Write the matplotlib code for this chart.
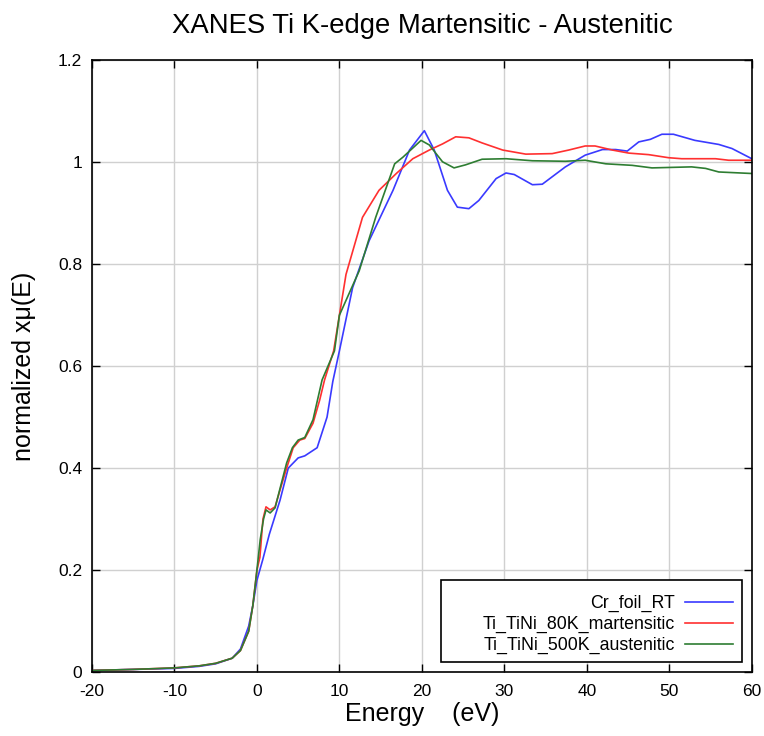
import matplotlib
matplotlib.use("Agg")
import matplotlib.pyplot as plt
from matplotlib.ticker import FuncFormatter
from matplotlib.patches import Rectangle

plt.rcParams['font.family'] = ['Liberation Sans', 'DejaVu Sans']
plt.rcParams['axes.unicode_minus'] = False

# Cr_foil_RT
cr_E = [-20, -15, -10, -7, -5, -3, -2, -1, -0.5, 0, 0.7, 1.5, 2.8, 3.8, 5.0, 5.8, 7.3, 8.5, 9.2, 10.0,
        11.6, 13.6, 16.5, 18.5, 20.3, 21.5, 23.1, 24.3, 25.7, 26.9, 29.0, 30.2, 31.2, 33.4, 34.6,
        37.4, 39.8, 41.9, 43.5, 44.9, 46.3, 47.7, 49.1, 50.5, 53.1, 56.0, 57.6, 60]
cr_mu = [0.003, 0.005, 0.007, 0.011, 0.016, 0.027, 0.045, 0.09, 0.13, 0.18, 0.22, 0.27, 0.337, 0.40, 0.42, 0.424, 0.44, 0.50, 0.57, 0.63,
         0.754, 0.846, 0.945, 1.024, 1.062, 1.024, 0.945, 0.912, 0.909, 0.925, 0.968, 0.979, 0.976, 0.956, 0.957,
         0.991, 1.014, 1.025, 1.025, 1.022, 1.040, 1.045, 1.055, 1.055, 1.043, 1.035, 1.027, 1.007]

# Ti_TiNi_80K_martensitic
mart_E = [-20, -15, -10, -7, -5, -3, -2, -1, -0.5, 0, 0.36, 0.73, 1.1, 1.6, 2.2, 2.8, 3.6, 4.4, 5.2, 5.8, 6.8, 7.6, 8.2,
          9.3, 10.8, 12.8, 14.8, 16.9, 18.9, 20.9, 22.5, 24.1, 25.7, 27.3, 29.8, 32.6, 35.8, 37.8, 39.8, 41.0,
          43.1, 45.1, 47.5, 49.9, 51.5, 53.5, 55.6, 57.2, 60]
mart_mu = [0.003, 0.005, 0.008, 0.012, 0.017, 0.027, 0.042, 0.08, 0.13, 0.2, 0.225, 0.30, 0.324, 0.318, 0.324, 0.357, 0.40, 0.44, 0.455, 0.458, 0.488, 0.533, 0.573,
           0.63, 0.78, 0.892, 0.945, 0.978, 1.007, 1.024, 1.036, 1.050, 1.048, 1.038, 1.024, 1.016, 1.017, 1.024, 1.032, 1.032,
           1.024, 1.018, 1.015, 1.009, 1.007, 1.007, 1.007, 1.004, 1.004]

# Ti_TiNi_500K_austenitic
aus_E = [-20, -15, -10, -7, -5, -3, -2, -1, -0.5, 0, 0.4, 0.8, 1.1, 1.6, 2.2, 2.8, 3.6, 4.3, 5.0, 5.8, 6.8, 7.9,
         9.4, 10.0, 12.4, 14.4, 16.7, 17.7, 19.9, 20.9, 22.5, 23.9, 25.3, 27.3, 30.2, 33.4, 37.4, 39.8,
         42.3, 45.5, 47.9, 52.7, 54.4, 56.0, 60]
aus_mu = [0.003, 0.005, 0.008, 0.012, 0.017, 0.027, 0.042, 0.08, 0.13, 0.2, 0.26, 0.30, 0.318, 0.312, 0.322, 0.36, 0.41, 0.44, 0.455, 0.46, 0.495, 0.573,
          0.63, 0.70, 0.787, 0.892, 0.997, 1.010, 1.043, 1.034, 1.001, 0.989, 0.995, 1.006, 1.007, 1.003, 1.002, 1.004,
          0.997, 0.994, 0.989, 0.991, 0.988, 0.981, 0.978]

labels = ['Cr_foil_RT', 'Ti_TiNi_80K_martensitic', 'Ti_TiNi_500K_austenitic']
colors = ['#3a3aff', '#ff3030', '#2e7d32']

fig = plt.figure(figsize=(7.64, 7.36), dpi=100)
ax = fig.add_axes([0.1204, 0.087, 0.8636, 0.831])

ax.plot(cr_E, cr_mu, color=colors[0], lw=1.2, label=labels[0])
ax.plot(mart_E, mart_mu, color=colors[1], lw=1.2, label=labels[1])
ax.plot(aus_E, aus_mu, color=colors[2], lw=1.2, label=labels[2])

ax.set_xlim(-20, 60)
ax.set_ylim(0, 1.2)
ax.set_xticks(range(-20, 61, 10))
ax.set_yticks([0, 0.2, 0.4, 0.6, 0.8, 1.0, 1.2])
ax.yaxis.set_major_formatter(FuncFormatter(lambda v, p: f"{v:g}"))
ax.grid(True, color='#d0d0d0', lw=1)
ax.set_axisbelow(True)
ax.tick_params(direction='in', top=True, right=True, length=6, labelsize=12.5, width=1)
ax.tick_params(axis='x', pad=9)
ax.tick_params(axis='y', pad=7)
for s in ax.spines.values():
    s.set_linewidth(1.2)

ax.set_title('XANES Ti K-edge Martensitic - Austenitic', fontsize=19.8, pad=20)
ax.set_xlabel('Energy    (eV)', fontsize=18, labelpad=2)
ax.set_ylabel('normalized xμ(E)', fontsize=18, labelpad=16)

# legend frame (wider than content, as in the reference)
ax.add_patch(Rectangle((0.529, 0.016), 0.456, 0.134, transform=ax.transAxes,
                       facecolor='white', edgecolor='black', lw=1.2, zorder=4))
leg = ax.legend(loc='lower right', markerfirst=False, fontsize=12.8, frameon=False,
                borderpad=0, borderaxespad=0, handlelength=2.7, handletextpad=0.6,
                labelspacing=0.22, bbox_to_anchor=(0.972, 0.029))
leg.set_zorder(5)
for t in leg.get_texts():
    t.set_ha('right')

fig.savefig('out.png', dpi=100)
